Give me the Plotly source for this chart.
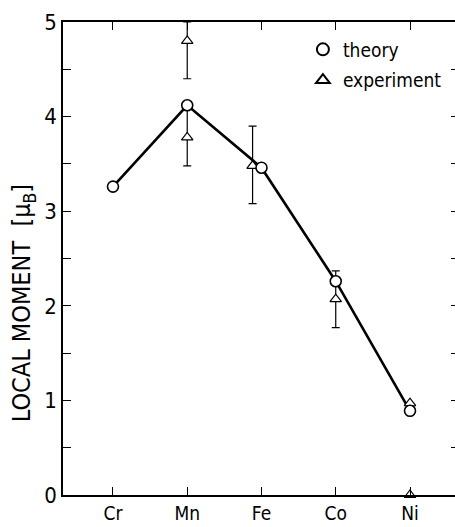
import plotly.graph_objects as go

# ---- data ----
elements = ["Cr", "Mn", "Fe", "Co", "Ni"]
theory = [3.26, 4.12, 3.46, 2.26, 0.89]

exp_elements = ["Mn", "Mn", "Fe", "Co", "Ni", "Ni"]
exp_offset = [0.0, 0.0, -0.12, 0.0, 0.0, 0.0]
experiment = [4.80, 3.78, 3.48, 2.07, 0.97, 0.0]
exp_err_plus = [0.20, 0.30, 0.42, 0.30, 0.0, 0.0]
exp_err_minus = [0.40, 0.30, 0.40, 0.30, 0.0, 0.0]

y_ticks = [0, 1, 2, 3, 4, 5]
y_ticktext = ["0", "1", "2", "3", "4", "5"]
y_fine_ticks = [0, 0.5, 1, 1.5, 2, 2.5, 3, 3.5, 4, 4.5, 5]

FONT = "DejaVu Sans Condensed, Liberation Sans Narrow, DejaVu Sans, sans-serif"

x_theory = [elements.index(e) for e in elements]
x_exp = [elements.index(e) + o for e, o in zip(exp_elements, exp_offset)]

fig = go.Figure()

# theory line
fig.add_trace(go.Scatter(
    x=x_theory, y=theory, mode="lines",
    line=dict(color="black", width=2.6),
    showlegend=False, hoverinfo="skip", cliponaxis=False,
))

# experiment
fig.add_trace(go.Scatter(
    x=x_exp, y=experiment, mode="markers", name="experiment",
    marker=dict(symbol="triangle-up", size=10, color="white",
                line=dict(color="black", width=1.2)),
    error_y=dict(type="data", symmetric=False, array=exp_err_plus,
                 arrayminus=exp_err_minus, color="black", thickness=1.2, width=4),
    cliponaxis=False, legendrank=2, legendgroup="exp",
))

# theory markers
fig.add_trace(go.Scatter(
    x=x_theory, y=theory, mode="markers", name="theory",
    marker=dict(symbol="circle", size=11, color="white",
                line=dict(color="black", width=1.6)),
    cliponaxis=False, legendrank=1, legendgroup="th",
))

# invisible trace to activate right axis
fig.add_trace(go.Scatter(x=[0], y=[0], yaxis="y2", mode="markers",
                         marker=dict(opacity=0), showlegend=False, hoverinfo="skip"))

fig.update_layout(
    width=455, height=527,
    margin=dict(l=63, r=0, t=22, b=32),
    paper_bgcolor="white", plot_bgcolor="white",
    font=dict(family=FONT, color="black", size=21),
    showlegend=True,
    legend=dict(x=0.612, y=0.982, xanchor="left", yanchor="top",
                font=dict(size=19, family=FONT), bgcolor="rgba(0,0,0,0)",
                itemsizing="constant", tracegroupgap=3, traceorder="grouped"),
    xaxis=dict(
        range=[-0.673, 4.606], tickvals=list(range(len(elements))), ticktext=elements,
        showline=True, linecolor="black", linewidth=1.5, mirror="ticks",
        ticks="inside", ticklen=8, tickwidth=1.2, tickcolor="black",
        showgrid=False, zeroline=False, tickfont=dict(size=19, family=FONT),
        ticklabelstandoff=0, automargin=False,
    ),
    yaxis=dict(
        range=[0, 5], tickvals=y_ticks, ticktext=y_ticktext,
        showline=True, linecolor="black", linewidth=1.5,
        ticks="inside", ticklen=8, tickwidth=1.2, tickcolor="black",
        minor=dict(tickvals=y_fine_ticks, ticks="inside", ticklen=8,
                   tickwidth=1.2, tickcolor="black", showgrid=False),
        showgrid=False, zeroline=False, tickfont=dict(size=22, family=FONT),
        automargin=False,
    ),
    yaxis2=dict(
        range=[0, 5], overlaying="y", side="right", anchor="x",
        tickvals=y_fine_ticks, showticklabels=False, showline=False,
        ticks="inside", ticklen=4, tickwidth=1.2, tickcolor="black",
        showgrid=False, zeroline=False, automargin=False,
    ),
    annotations=[dict(
        text="LOCAL MOMENT  [μ<sub>B</sub>]", textangle=-90,
        xref="paper", yref="paper", x=-0.10, y=0.405,
        xanchor="center", yanchor="middle", showarrow=False,
        font=dict(size=25, family=FONT),
    )],
)

fig.write_html("out.html")
